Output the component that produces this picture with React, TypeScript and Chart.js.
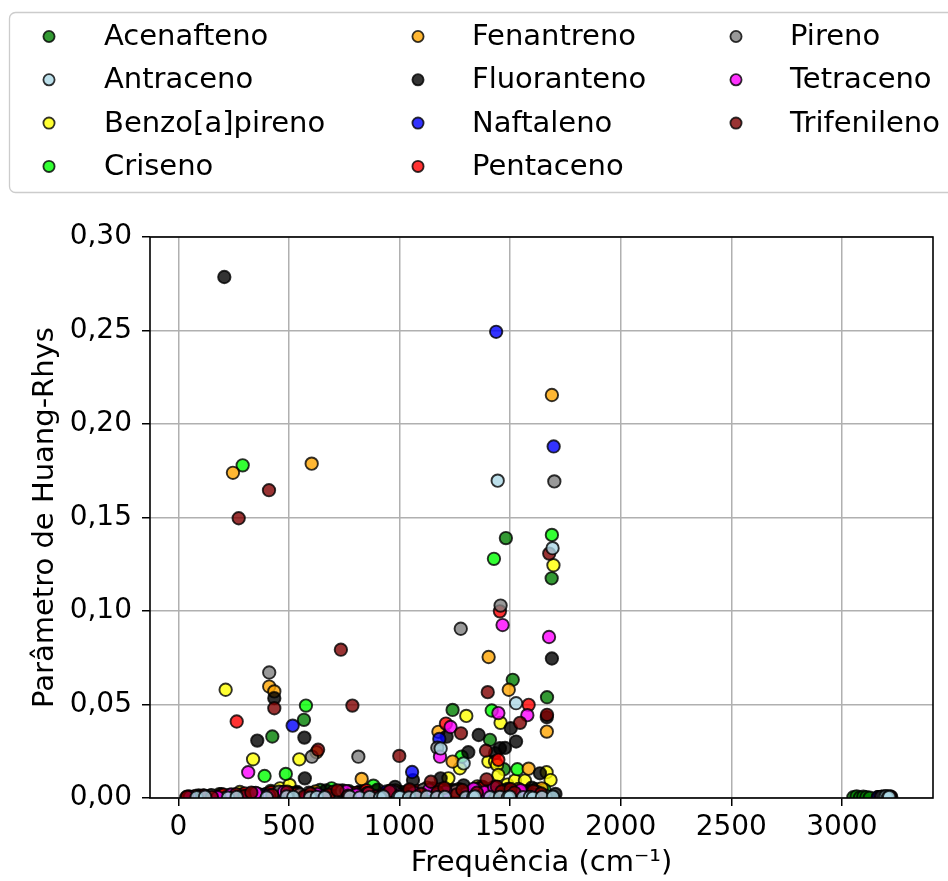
import React, { useEffect, useRef } from 'react';
import { Chart, registerables } from 'chart.js';

Chart.register(...registerables);

const FONT = '"DejaVu Sans", "Liberation Sans", sans-serif';

const seriesNames = [
  'Acenafteno', 'Antraceno', 'Benzo[a]pireno', 'Criseno',
  'Fenantreno', 'Fluoranteno', 'Naftaleno', 'Pentaceno',
  'Pireno', 'Tetraceno', 'Trifenileno',
];

const seriesFill = [
  'rgba(0,128,0,0.8)', 'rgba(173,216,230,0.8)', 'rgba(255,255,0,0.8)', 'rgba(0,255,0,0.8)',
  'rgba(255,165,0,0.8)', 'rgba(0,0,0,0.8)', 'rgba(0,0,255,0.8)', 'rgba(255,0,0,0.8)',
  'rgba(128,128,128,0.8)', 'rgba(255,0,255,0.8)', 'rgba(128,0,0,0.8)',
];

// [frequency (cm-1), Huang-Rhys parameter]
const acenafteno: [number, number][] = [
  [162,0.0006],[224,0.0011],[371,0.0018],[425,0.0329],[449,0.0009],[536,0.0027],[568,0.0418],[622,0.0014],[641,0.0043],[655,0.0005],[713,0.0022],[746,0.0008],[799,0.0012],[836,0.0035],[873,0.0007],[906,0.0016],[958,0.0004],[1029,0.0025],[1073,0.0013],[1117,0.0009],[1159,0.0031],[1196,0.0018],[1240,0.0471],[1263,0.0011],[1327,0.0038],[1363,0.0021],[1409,0.0311],[1443,0.0026],[1472,0.0154],[1481,0.1390],[1512,0.0632],[1602,0.0017],[1667,0.0539],[1688,0.1175],[3052,0.0004],[3067,0.0009],[3082,0.0003],[3097,0.0007],[3111,0.0005],[3126,0.0002],
];
const antraceno: [number, number][] = [
  [83,0.0004],[121,0.0007],[225,0.0002],[264,0.0006],[400,0.0003],[490,0.0008],[520,0.0005],[596,0.0002],[626,0.0006],[662,0.0004],[775,0.0007],[820,0.0003],[865,0.0005],[912,0.0002],[927,0.0008],[994,0.0004],[1002,0.0006],[1043,0.0003],[1077,0.0005],[1124,0.0007],[1169,0.0004],[1186,0.0265],[1205,0.0006],[1290,0.0185],[1300,0.0003],[1333,0.0005],[1341,0.0008],[1409,0.0004],[1444,0.1697],[1454,0.0006],[1490,0.0003],[1499,0.0007],[1527,0.0507],[1559,0.0004],[1590,0.0006],[1603,0.0002],[1644,0.0005],[1692,0.1336],[1694,0.0007],[3183,0.0006],[3191,0.0004],[3199,0.0008],[3208,0.0003],[3214,0.0005],
];
const benzoApireno: [number, number][] = [
  [48,0.0008],[92,0.0014],[128,0.0006],[186,0.0021],[214,0.0579],[245,0.0011],[278,0.0032],[305,0.0009],[338,0.0207],[390,0.0017],[418,0.0038],[460,0.0052],[503,0.0070],[521,0.0024],[547,0.0207],[588,0.0012],[615,0.0029],[676,0.0008],[705,0.0019],[742,0.0041],[768,0.0013],[811,0.0027],[845,0.0006],[868,0.0022],[893,0.0035],[935,0.0010],[968,0.0018],[1012,0.0031],[1047,0.0007],[1098,0.0024],[1133,0.0045],[1176,0.0016],[1221,0.0105],[1248,0.0036],[1273,0.0159],[1302,0.0439],[1336,0.0028],[1352,0.0062],[1378,0.0033],[1402,0.0195],[1417,0.0052],[1432,0.0195],[1441,0.0177],[1447,0.0123],[1457,0.0402],[1463,0.0041],[1488,0.0072],[1512,0.0038],[1522,0.0093],[1567,0.0093],[1598,0.0029],[1617,0.0047],[1642,0.0021],[1665,0.0138],[1683,0.0096],[1696,0.1245],[3162,0.0005],[3178,0.0003],[3194,0.0006],[3209,0.0002],
];
const criseno: [number, number][] = [
  [58,0.0005],[114,0.0012],[236,0.0007],[287,0.0019],[291,0.1779],[340,0.0026],[390,0.0118],[425,0.0009],[469,0.0031],[486,0.0129],[512,0.0015],[577,0.0494],[610,0.0023],[648,0.0008],[693,0.0052],[730,0.0017],[772,0.0036],[815,0.0011],[860,0.0024],[882,0.0066],[950,0.0013],[1005,0.0029],[1052,0.0006],[1140,0.0034],[1162,0.0018],[1230,0.0027],[1270,0.0042],[1281,0.0221],[1318,0.0015],[1385,0.0031],[1417,0.0468],[1427,0.1279],[1432,0.0058],[1465,0.0024],[1533,0.0154],[1575,0.0037],[1608,0.0019],[1655,0.0045],[1689,0.1407],[3171,0.0004],[3188,0.0006],[3203,0.0003],
];
const fenantreno: [number, number][] = [
  [102,0.0009],[233,0.0016],[247,0.1739],[398,0.0022],[411,0.0596],[434,0.0570],[442,0.0011],[505,0.0027],[550,0.0008],[603,0.1788],[620,0.0035],[625,0.0245],[712,0.0014],[778,0.0028],[829,0.0102],[836,0.0019],[871,0.0006],[942,0.0024],[981,0.0041],[1048,0.0013],[1093,0.0032],[1125,0.0055],[1176,0.0354],[1180,0.0021],[1214,0.0039],[1240,0.0195],[1268,0.0047],[1345,0.0026],[1371,0.0061],[1403,0.0754],[1460,0.0034],[1494,0.0579],[1538,0.0048],[1545,0.0025],[1584,0.0157],[1617,0.0031],[1643,0.0052],[1666,0.0355],[1689,0.2155],[3166,0.0004],[3181,0.0007],[3197,0.0003],
];
const fluoranteno: [number, number][] = [
  [68,0.0006],[145,0.0013],[195,0.0021],[208,0.2786],[322,0.0009],[357,0.0307],[416,0.0027],[434,0.0534],[465,0.0015],[537,0.0032],[570,0.0323],[572,0.0105],[625,0.0018],[668,0.0041],[688,0.0011],[744,0.0026],[778,0.0007],[820,0.0034],[845,0.0019],[901,0.0045],[960,0.0023],[980,0.0060],[1022,0.0014],[1040,0.0038],[1061,0.0096],[1105,0.0029],[1150,0.0052],[1172,0.0017],[1186,0.0105],[1213,0.0328],[1241,0.0043],[1290,0.0068],[1311,0.0245],[1335,0.0036],[1358,0.0337],[1378,0.0058],[1410,0.0027],[1432,0.0240],[1454,0.0266],[1477,0.0268],[1490,0.0049],[1503,0.0373],[1527,0.0302],[1565,0.0031],[1598,0.0055],[1635,0.0132],[1666,0.0432],[1689,0.0746],[1705,0.0022],[3186,0.0005],[3199,0.0008],[3211,0.0003],[3223,0.0006],
];
const naftaleno: [number, number][] = [
  [172,0.0007],[385,0.0015],[478,0.0009],[502,0.0024],[517,0.0387],[620,0.0011],[725,0.0031],[785,0.0006],[803,0.0019],[880,0.0013],[942,0.0035],[965,0.0008],[985,0.0022],[1035,0.0016],[1057,0.0139],[1160,0.0027],[1180,0.0316],[1270,0.0012],[1398,0.0029],[1437,0.2493],[1480,0.0018],[1636,0.0009],[1697,0.1880],[3165,0.0004],[3180,0.0006],[3196,0.0003],
];
const pentaceno: [number, number][] = [
  [36,0.0004],[78,0.0011],[140,0.0006],[205,0.0018],[258,0.0009],[264,0.0409],[300,0.0025],[365,0.0013],[420,0.0031],[482,0.0007],[535,0.0022],[610,0.0016],[702,0.0034],[752,0.0010],[804,0.0027],[851,0.0041],[922,0.0014],[976,0.0029],[1012,0.0008],[1080,0.0038],[1150,0.0021],[1182,0.0046],[1210,0.0398],[1245,0.0033],[1320,0.0019],[1372,0.0052],[1418,0.0026],[1447,0.0204],[1454,0.0998],[1488,0.0041],[1540,0.0035],[1584,0.0498],[1612,0.0024],[3190,0.0005],[3203,0.0003],[3215,0.0007],
];
const pireno: [number, number][] = [
  [98,0.0008],[150,0.0015],[218,0.0005],[356,0.0023],[408,0.0012],[411,0.0671],[455,0.0034],[505,0.0009],[550,0.0019],[590,0.0028],[604,0.0221],[712,0.0011],[740,0.0037],[812,0.0016],[814,0.0221],[853,0.0025],[932,0.0007],[977,0.0031],[1015,0.0014],[1108,0.0044],[1152,0.0022],[1171,0.0269],[1255,0.0036],[1277,0.0905],[1312,0.0018],[1345,0.0047],[1425,0.0029],[1457,0.1029],[1470,0.0039],[1528,0.0021],[1620,0.0033],[1660,0.0012],[1700,0.1693],[3174,0.0004],[3189,0.0006],[3205,0.0002],
];
const tetraceno: [number, number][] = [
  [52,0.0006],[118,0.0012],[178,0.0004],[240,0.0019],[312,0.0009],[316,0.0138],[350,0.0027],[410,0.0014],[478,0.0033],[580,0.0008],[628,0.0021],[662,0.0011],[760,0.0036],[805,0.0017],[858,0.0026],[925,0.0006],[960,0.0039],[1000,0.0015],[1066,0.0028],[1134,0.0044],[1170,0.0019],[1183,0.0221],[1210,0.0034],[1231,0.0380],[1302,0.0023],[1335,0.0049],[1385,0.0031],[1428,0.0058],[1447,0.0454],[1466,0.0925],[1497,0.0027],[1547,0.0042],[1578,0.0443],[1615,0.0018],[1676,0.0861],[3178,0.0005],[3193,0.0003],[3207,0.0007],
];
const trifenileno: [number, number][] = [
  [40,0.0007],[112,0.0013],[152,0.0005],[262,0.0021],[273,0.1496],[300,0.0011],[330,0.0029],[410,0.1646],[425,0.0016],[434,0.0480],[492,0.0034],[570,0.0009],[598,0.0024],[632,0.0258],[680,0.0018],[720,0.0041],[735,0.0793],[768,0.0012],[787,0.0494],[860,0.0027],[892,0.0008],[955,0.0036],[999,0.0225],[1020,0.0015],[1045,0.0046],[1098,0.0022],[1142,0.0087],[1172,0.0031],[1203,0.0054],[1258,0.0019],[1278,0.0346],[1284,0.0043],[1350,0.0028],[1391,0.0253],[1394,0.0100],[1399,0.0566],[1440,0.0061],[1462,0.0035],[1502,0.0048],[1520,0.0029],[1545,0.0402],[1605,0.0038],[1640,0.0024],[1667,0.0445],[1677,0.1307],[3192,0.0006],[3206,0.0004],[3219,0.0008],
];

const seriesData = [
  acenafteno, antraceno, benzoApireno, criseno, fenantreno, fluoranteno,
  naftaleno, pentaceno, pireno, tetraceno, trifenileno,
];

const xTickValues = [0, 500, 1000, 1500, 2000, 2500, 3000];
const yTickValues = [0, 0.05, 0.1, 0.15, 0.2, 0.25, 0.3];

const xLabel = 'Frequência (cm⁻¹)';
const yLabel = 'Parâmetro de Huang-Rhys';

const legendPlugin = {
  id: 'columnLegend',
  afterDraw(chart: any) {
    const ctx = chart.ctx as CanvasRenderingContext2D;
    ctx.save();
    ctx.beginPath();
    (ctx as any).roundRect(9.5, 12.5, 960, 180, 6);
    ctx.fillStyle = 'rgba(255,255,255,0.8)';
    ctx.fill();
    ctx.strokeStyle = '#cccccc';
    ctx.lineWidth = 1.3;
    ctx.stroke();
    const markerX = [49, 418, 736];
    const textX = [104, 472, 790];
    const rowY = [36.5, 79.8, 123.1, 166.4];
    ctx.font = `29px ${FONT}`;
    ctx.textBaseline = 'middle';
    ctx.textAlign = 'left';
    seriesNames.forEach((name, i) => {
      const c = Math.floor(i / 4);
      const r = i % 4;
      ctx.beginPath();
      ctx.arc(markerX[c], rowY[r], 5.6, 0, Math.PI * 2);
      ctx.fillStyle = seriesFill[i];
      ctx.fill();
      ctx.lineWidth = 1.8;
      ctx.strokeStyle = 'rgba(0,0,0,0.8)';
      ctx.stroke();
      ctx.fillStyle = '#000';
      ctx.fillText(name, textX[c], rowY[r] + 1);
    });
    ctx.restore();
  },
};

const framePlugin = {
  id: 'frame',
  afterDatasetsDraw(chart: any) {
    const { ctx, chartArea } = chart;
    ctx.save();
    ctx.strokeStyle = '#000';
    ctx.lineWidth = 1.6;
    ctx.strokeRect(chartArea.left, chartArea.top, chartArea.right - chartArea.left, chartArea.bottom - chartArea.top);
    ctx.restore();
  },
};

export default function App() {
  const ref = useRef<HTMLCanvasElement | null>(null);

  useEffect(() => {
    if (!ref.current) return;
    const chart = new Chart(ref.current, {
      type: 'scatter',
      data: {
        datasets: seriesData.map((d, i) => ({
          label: seriesNames[i],
          data: d.map(([x, y]) => ({ x, y })),
          backgroundColor: seriesFill[i],
          borderColor: 'rgba(0,0,0,0.8)',
          borderWidth: 1.9,
          pointRadius: 6.2,
          pointHoverRadius: 6.2,
          order: i === 1 ? 0 : 12 - i,
          clip: 0,
        })),
      },
      options: {
        animation: false,
        responsive: false,
        devicePixelRatio: 1,
        events: [],
        layout: { padding: { left: 0, right: 15, top: 237, bottom: 0 } },
        plugins: {
          legend: { display: false },
          tooltip: { enabled: false },
        },
        scales: {
          x: {
            type: 'linear',
            min: -128,
            max: 3412,
            afterBuildTicks: (s: any) => { s.ticks = xTickValues.map((v) => ({ value: v })); },
            afterFit: (s: any) => { s.height = 83; },
            ticks: {
              callback: (v: any) => String(v),
              font: { family: FONT, size: 28 },
              color: '#000',
              padding: 5,
              maxRotation: 0,
              autoSkip: false,
            },
            grid: { color: '#b0b0b0', lineWidth: 1.5, tickColor: '#000', tickLength: 8, tickWidth: 1.5 },
            border: { display: false },
            title: {
              display: true,
              text: xLabel,
              font: { family: FONT, size: 29 },
              color: '#000',
              padding: { top: 0, bottom: 0 },
            },
          },
          y: {
            type: 'linear',
            min: 0,
            max: 0.3,
            afterBuildTicks: (s: any) => { s.ticks = yTickValues.map((v) => ({ value: v })); },
            afterFit: (s: any) => { s.width = 150; },
            ticks: {
              callback: (v: any) => Number(v).toFixed(2).replace('.', ','),
              font: { family: FONT, size: 28 },
              color: '#000',
              padding: 10,
              autoSkip: false,
            },
            grid: { color: '#b0b0b0', lineWidth: 1.5, tickColor: '#000', tickLength: 8, tickWidth: 1.5 },
            border: { display: false },
            title: {
              display: true,
              text: yLabel,
              font: { family: FONT, size: 29 },
              color: '#000',
              padding: { top: 28, bottom: 0 },
            },
          },
        },
      },
      plugins: [legendPlugin, framePlugin],
    } as any);
    return () => chart.destroy();
  }, []);

  return (
    <div style={{ position: 'absolute', left: 0, top: 0, width: 948, height: 881, background: '#fff' }}>
      <canvas ref={ref} width={948} height={881} style={{ width: 948, height: 881, display: 'block' }} />
    </div>
  );
}
